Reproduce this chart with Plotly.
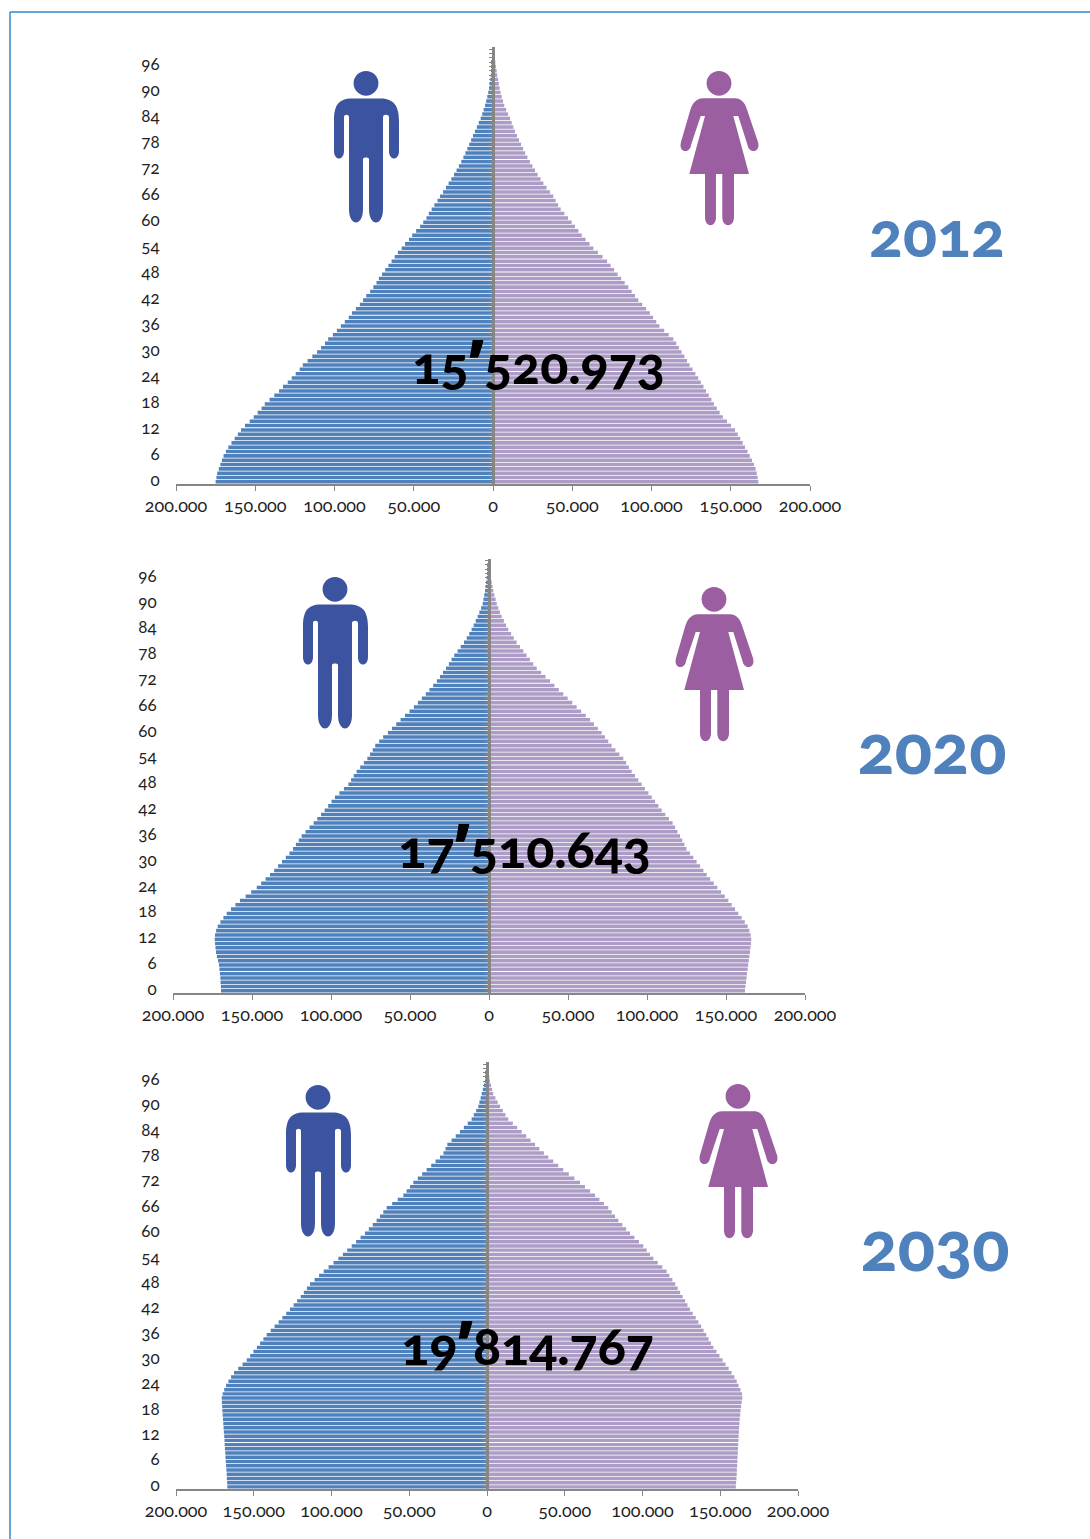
import plotly.graph_objects as go

# Resident population by single year of age, in thousands (index = age 0..100)
male_2012 = [175,174.5,174,173,172,171,170,168.5,167,165,163,161,159,156.5,153.5,151,148.5,146,144,141,138,135,132.5,129.5,127,124.5,122,120,117,114,111,108.5,106,104,101,98.5,96,93.5,91,89,86.5,84,82,80,77.5,75.5,73.5,72,70,68,66,64,62,60,57.6,55.5,53,51,48.5,46,44,42,40.5,38.7,37,35,33.4,31.5,29.7,28,26.3,24.6,23,21.5,20,18.7,17.4,16.2,15,13.8,12.6,11.4,10.2,9,7.8,6.8,5.9,5,4.3,3.6,3,2.5,2.1,1.7,1.4,1.2,1,.8,.6,.5,.3]
female_2012 = [167.4,167,166.4,165.7,164.6,163.4,162,160.6,159,157.5,156,154.4,152.7,150.2,147.6,145,143,141.2,139.4,137.8,136.1,134.4,132.8,131.1,129.5,127.7,125.9,124,122.4,120.7,119,117.3,115.6,113.8,110.9,108,105,103,101,99,96.6,94.2,91.7,89.6,87.5,85.4,83.1,80.9,78.6,76.4,74.2,72,69.1,66.2,63.3,60.9,58.4,56,53.9,51.7,49.6,47.3,45,42.7,41.1,39.5,38,35.9,33.8,31.8,30,28.2,26.5,24.9,23.3,21.7,20.3,19,17.7,16.4,15.1,13.9,12.8,11.8,10.7,9.5,8.3,7.1,6.3,5.5,4.8,4.2,3.7,3.2,2.7,2.3,1.9,1.5,1.1,.7,.5]
male_2020 = [169.6,169.7,169.9,170,170.3,170.6,170.9,171.5,172.2,172.8,173.1,173.4,173.6,173.4,172.7,171.7,170,168.1,166,163.3,160.5,157.6,154,150.5,147,144.2,141.4,138.6,136,133.5,131,128.6,126.3,124,122.2,120.4,118.6,116.1,113.6,111,108.7,106.3,104,101.8,99.7,97.5,94.7,91.8,89,87.3,85.6,83.8,81.5,79.2,77,75.3,73.6,72,69.5,67,64,61.4,58.7,56,53.2,50.3,47.5,45,42.5,40,37.7,35.3,33,31,29.1,27.2,25.4,23.7,22,19.9,17.9,15.8,14.1,12.5,11,9.7,8.4,7.2,6.1,5,4,3.5,3,2.5,2.1,1.8,1.5,1.2,1,.8,.5]
female_2020 = [162,162.3,162.7,163,163.3,163.7,164,164.4,164.8,165.2,165.5,165.8,166,165.6,164.8,163.7,161.9,159.9,157.8,155.7,153.6,151.5,149.2,146.9,144.5,142.3,140,137.8,135.7,133.6,131.4,129.3,127.2,125,123.7,122.3,120.9,119.3,117.8,116.2,113.9,111.6,109.3,107.2,105.1,103,100.9,98.7,96.6,94.5,92.4,90.3,88.5,86.8,85,82.5,80,77.6,75.5,73.4,71.3,68.9,66.4,64,61.2,58.3,55.5,52.7,49.8,47,44.2,41.4,38.6,35.8,33,30.2,28,25.9,23.8,21.7,19.6,17.5,15.7,14,12.2,10.8,9.4,8,6.9,5.9,4.9,4.2,3.4,2.7,2.2,1.7,1.3,1,.8,.6,.4]
male_2030 = [167,167.1,167.3,167.4,167.6,167.8,168,168.2,168.3,168.5,168.7,168.8,169,169.2,169.4,169.6,169.8,170,170.2,170.3,170.5,170.6,170,169,167.8,166.3,164.6,162.7,160,157.2,154.5,152.3,150.2,148,145.9,143.8,141.7,139.1,136.6,134,131.6,129.1,126.7,124.4,122.1,119.8,117.8,115.8,113.8,110.9,108,105,101.9,98.7,95.6,92.7,89.9,87,84.2,81.3,78.5,76,73.5,71,68.8,66.7,64.5,61,57.4,53.8,51.7,49.5,47.4,44.5,41.7,38.8,35.9,33.1,30.2,28,26.7,25.5,22.8,20.1,17.4,14.9,12.4,9.9,8.5,7,5.6,4.9,4.1,3.4,2.7,2,1.3,1.1,.9,.6,.4]
female_2030 = [160,160.2,160.4,160.6,160.7,160.9,161,161.1,161.3,161.4,161.5,161.7,161.8,162,162.1,162.3,162.5,162.8,163,163.4,163.8,164.2,164,163,161.8,160.6,159.1,157.3,155.4,153.4,151.5,149.5,147.6,145.6,144,142.5,141,139.3,137.7,136,134.2,132.3,130.5,128.9,127.4,125.8,124.2,122.6,121,119.2,117.3,115.5,112.7,109.8,107,104.8,102.7,100.5,97.7,94.8,92,89.5,87,84.5,82.3,80.2,78,75.2,72.3,69.5,66.3,63,59.8,56.2,52.6,49,45.8,42.6,39.4,36.6,33.7,30.9,28,25.2,22.3,19.4,16.6,13.7,11.9,10.2,8.4,6.9,5.4,4,3.3,2.6,1.9,1.5,1.1,.7,.5]
ages = list(range(101))

years = ["2012", "2020", "2030"]
total_whole = ["15", "17", "19"]
total_rest = ["520.973", "510.643", "814.767"]
x_tick_values = [-200, -150, -100, -50, 0, 50, 100, 150, 200]
x_tick_labels = ["200.000", "150.000", "100.000", "50.000", "0", "50.000", "100.000", "150.000", "200.000"]

W, H = 1090, 1539
MALE, FEMALE = "#4f81bd", "#ad9cc6"
MALE_ICON, FEMALE_ICON = "#3c54a0", "#9b5ea0"
AXIS = "#868686"
FAMILY = "Lato"


def px(x):
    return x / W


def py(y):
    return 1 - y / H


def man(cx, top):
    pts = ("M -32,50 C -32,35 -28,27.5 -14,27.5 L 14,27.5 C 28,27.5 33,35 33,50 L 33,80 C 33,90 23,90 23,80 "
           "L 23,46 C 23,43 17,43 17,46 L 17,138 C 17,156 3,156 3,138 L 3,88 C 3,86 -3,86 -3,88 L -3,138 "
           "C -3,156 -17,156 -17,138 L -17,46 C -17,43 -22,43 -22,46 L -22,80 C -22,90 -32,90 -32,80 Z")
    return place(pts, cx, top)


def woman(cx, top):
    pts = ("M -16,27.3 C -23,27.3 -27,33 -29,40 L -38,71 C -41,82 -29,83 -28,74 L -18.3,45 L -14,45 L -29.7,103 "
           "L -14,103 L -14,146 C -14,157 -3,157 -3,146 L -3,103 L 3.3,103 L 3.3,146 C 3.3,157 15,157 15,146 "
           "L 15,103 L 30,103 L 14.3,45 L 19.3,45 L 28.5,74 C 30,83 42,82 39,71 L 28.5,40 C 26.5,33 23,27.3 16,27.3 Z")
    return place(pts, cx, top)


def place(path, cx, top):
    # Turn an icon outline given around its centre line into paper coordinates
    out = []
    for tok in path.split():
        if "," in tok:
            a, b = tok.split(",")
            out.append(f"{px(cx + float(a)):.5f},{py(top + float(b)):.5f}")
        else:
            out.append(tok)
    return " ".join(out)


def icon_shapes(outline, cx, top, colour):
    r = 12.4
    return [
        dict(type="path", xref="paper", yref="paper", path=outline(cx, top), fillcolor=colour, line_width=0),
        dict(type="circle", xref="paper", yref="paper", x0=px(cx - r), x1=px(cx + r),
             y0=py(top + 12.3 + r), y1=py(top + 12.3 - r), fillcolor=colour, line_width=0),
    ]


panels = [
    dict(male=male_2012, female=female_2012, left=176, right=810, top=47, bottom=484,
         man=(366, 71), woman=(719, 71),
         year_xy=(937, 233), year_size=63, total_xy=(538, 360)),
    dict(male=male_2020, female=female_2020, left=173, right=805, top=558.5, bottom=993,
         man=(335, 577), woman=(714, 587),
         year_xy=(932, 747), year_size=69, total_xy=(524, 844)),
    dict(male=male_2030, female=female_2030, left=176, right=798, top=1062, bottom=1489,
         man=(318, 1085), woman=(738, 1084),
         year_xy=(935, 1244), year_size=69, total_xy=(527, 1341)),
]

fig = go.Figure()
layout = dict(
    width=W, height=H, margin=dict(l=0, r=0, t=0, b=0, autoexpand=False), autosize=False,
    paper_bgcolor="white", plot_bgcolor="rgba(0,0,0,0)", showlegend=False,
    barmode="overlay",
)
shapes = [
    dict(type="line", xref="paper", yref="paper", x0=px(10), x1=px(10), y0=py(12), y1=0,
         line=dict(color="#2f8bcb", width=1.5)),
    dict(type="line", xref="paper", yref="paper", x0=px(10), x1=1, y0=py(12), y1=py(12),
         line=dict(color="#2f8bcb", width=1.5)),
]
annotations = []

for i, p in enumerate(panels):
    n = i + 1
    x_id, y_id, y2_id = f"x{n}", f"y{n}", f"y{n + 3}"
    fig.add_bar(y=ages, x=[-v for v in p["male"]], orientation="h", width=0.82,
                marker=dict(color=MALE, line_width=0), xaxis=x_id, yaxis=y_id, name="Men " + years[i])
    fig.add_bar(y=ages, x=p["female"], orientation="h", width=0.82,
                marker=dict(color=FEMALE, line_width=0), xaxis=x_id, yaxis=y2_id, name="Women " + years[i])
    layout[f"xaxis{n}"] = dict(
        domain=[px(p["left"]), px(p["right"])], range=[-200, 200], anchor=y_id,
        tickmode="array", tickvals=x_tick_values, ticktext=x_tick_labels,
        showgrid=False, zeroline=False, showline=True, linecolor=AXIS, linewidth=1.5,
        ticks="outside", ticklen=5, tickcolor=AXIS,
        tickfont=dict(family=FAMILY, size=18, color="#1f1f1f"),
    )
    layout[f"yaxis{n}"] = dict(
        domain=[py(p["bottom"]), py(p["top"])], range=[-0.5, 100.5], anchor=x_id,
        tick0=0, dtick=6, showgrid=False, zeroline=False, showline=False,
        ticks="outside", ticklen=12, tickcolor="rgba(0,0,0,0)", ticklabelshift=-2,
        tickfont=dict(family=FAMILY, size=17, color="#1f1f1f"),
    )
    zero_x = px((p["left"] + p["right"]) / 2)
    layout[f"yaxis{n + 3}"] = dict(
        domain=[py(p["bottom"]), py(p["top"])], range=[-0.5, 100.5], overlaying=y_id, anchor="free",
        position=zero_x, side="left", tick0=0, dtick=1, showgrid=False, zeroline=False,
        showline=True, linecolor=AXIS, linewidth=2.5, ticks="outside", ticklen=3, tickwidth=1,
        tickcolor=AXIS, showticklabels=False,
    )
    shapes += icon_shapes(man, *p["man"], MALE_ICON)
    shapes += icon_shapes(woman, *p["woman"], FEMALE_ICON)
    annotations.append(dict(
        xref="paper", yref="paper", x=px(p["year_xy"][0]), y=py(p["year_xy"][1]), text=years[i],
        showarrow=False, xanchor="center", yanchor="middle",
        font=dict(family=FAMILY, size=p["year_size"], color=MALE, weight=900),
    ))
    total = f"{total_whole[i]}<span style='font-family:Open Sans;font-size:62px'>’</span>{total_rest[i]}"
    annotations.append(dict(
        xref="paper", yref="paper", x=px(p["total_xy"][0]), y=py(p["total_xy"][1]), text=total,
        showarrow=False, xanchor="center", yanchor="middle",
        font=dict(family=FAMILY, size=52, color="black", weight=900),
    ))

fig.update_layout(shapes=shapes, annotations=annotations, **layout)

# Old-style figures for every label in the page
old_style = """
var s = document.createElement('style');
s.textContent = '.main-svg text{font-variant-numeric:oldstyle-nums;font-feature-settings:"onum" 1;}';
document.head.appendChild(s);
"""
fig.write_html("out.html", post_script=old_style, config=dict(displayModeBar=False))
